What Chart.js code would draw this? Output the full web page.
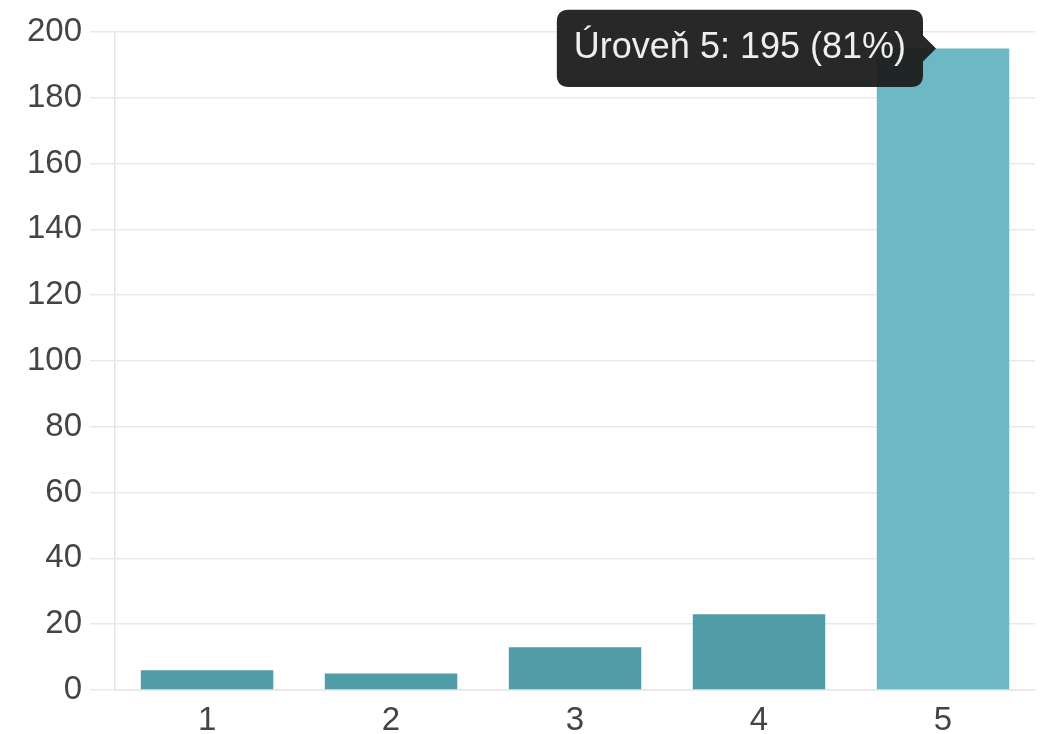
<!DOCTYPE html>
<html>
<head>
<meta charset="utf-8">
<script src="https://cdn.jsdelivr.net/npm/chart.js@4/dist/chart.umd.min.js"></script>
<style>
    html, body { margin: 0; padding: 0; background: #fff; }
    #wrap { width: 1041px; height: 734px; }
</style>
</head>
<body>
<div id="wrap"><canvas id="myChart"></canvas></div>
<script>

const labels = ['1', '2', '3', '4', '5'];
const counts = [6, 5, 13, 23, 195];
const yTicks = [0, 20, 40, 60, 80, 100, 120, 140, 160, 180, 200];
const labelPrefix = 'Úroveň';
const activeIndex = 4;

function createChart() {
    const total = counts.reduce((a, b) => a + b, 0);

    const data = {
        labels: labels,
        datasets: [{
            data: counts,
            backgroundColor: 'rgb(80, 157, 168)',
            hoverBackgroundColor: 'rgb(108, 185, 197)',
            borderWidth: 0
        }]
    };

    const tickFont = { family: 'Liberation Sans', size: 33 };

    const config = {
        type: 'bar',
        data: data,
        options: {
            responsive: true,
            maintainAspectRatio: false,
            animation: false,
            layout: {
                padding: { top: 32, right: 6, left: 19, bottom: 0 }
            },
            scales: {
                x: {
                    grid: { display: false },
                    border: { color: '#e6e6e6', width: 1.5 },
                    afterFit: scale => { scale.height = 44; },
                    ticks: {
                        color: '#444',
                        padding: 3,
                        font: tickFont
                    }
                },
                y: {
                    min: 0,
                    max: 200,
                    afterBuildTicks: scale => {
                        scale.ticks = yTicks.map(v => ({ value: v }));
                    },
                    grid: { color: '#e9e9e9', lineWidth: 1.5, tickLength: 25 },
                    border: { color: '#e6e6e6', width: 1.5 },
                    ticks: {
                        color: '#444',
                        padding: 8,
                        font: tickFont
                    }
                }
            },
            plugins: {
                legend: { display: false },
                tooltip: {
                    xAlign: 'right',
                    yAlign: 'center',
                    backgroundColor: 'rgba(28, 28, 28, 0.95)',
                    bodyColor: '#eeeeee',
                    bodyFont: { family: 'Liberation Sans', size: 36 },
                    padding: { x: 17, y: 17 },
                    cornerRadius: 12,
                    caretSize: 13,
                    caretPadding: 7,
                    displayColors: false,
                    callbacks: {
                        title: () => '',
                        label: ctx => {
                            const pct = Math.round(ctx.parsed.y / total * 100);
                            return labelPrefix + ' ' + ctx.label + ': ' + ctx.parsed.y + ' (' + pct + '%)';
                        }
                    }
                }
            }
        }
    };

    const myChart = new Chart(document.getElementById('myChart'), config);

    const active = [{ datasetIndex: 0, index: activeIndex }];
    myChart.setActiveElements(active);
    myChart.tooltip.setActiveElements(active, { x: 0, y: 0 });
    myChart.update('none');
}

createChart();
</script>
</body>
</html>
